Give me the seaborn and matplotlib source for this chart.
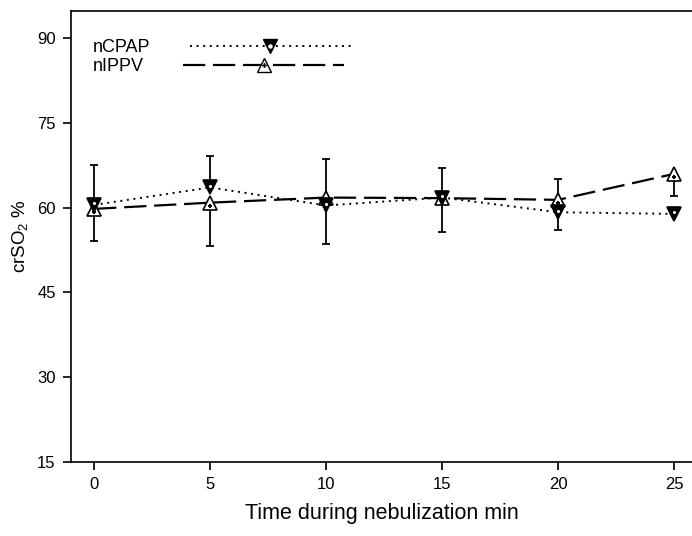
import matplotlib
matplotlib.use("Agg")
import matplotlib.pyplot as plt
from matplotlib.lines import Line2D
from matplotlib.legend_handler import HandlerTuple
import seaborn as sns
import pandas as pd

time = [0, 5, 10, 15, 20, 25]
ncpap = [60.5, 63.6, 60.4, 61.8, 59.2, 58.9]
nippv = [59.8, 60.9, 61.8, 61.7, 61.4, 66.0]
ncpap_err_up = [7.1, 5.6, 8.2, 5.2, 5.9, 0.0]
nippv_err_down = [5.75, 7.7, 8.3, 6.0, 5.35, 3.9]
y_ticks = [15, 30, 45, 60, 75, 90]
x_ticks = [0, 5, 10, 15, 20, 25]

sns.set_theme(style="ticks")
plt.rcParams["font.family"] = ["Liberation Sans", "DejaVu Sans"]
plt.rcParams["text.color"] = "black"
plt.rcParams["mathtext.fontset"] = "custom"
plt.rcParams["mathtext.rm"] = "Liberation Sans"
plt.rcParams["mathtext.it"] = "Liberation Sans"

fig = plt.figure(figsize=(6.92, 5.36), dpi=100)
ax = fig.add_axes([71/692, 1 - 461.7/536, 1 - 71/692, (461.7 - 11)/536])

df = pd.DataFrame({"time": time, "ncpap": ncpap, "nippv": nippv})

# error bars
ax.errorbar(time, ncpap, yerr=[[0]*6, ncpap_err_up], fmt="none", ecolor="black",
            elinewidth=1.3, capsize=3, capthick=1.3, zorder=2)
ax.errorbar(time, nippv, yerr=[nippv_err_down, [0]*6], fmt="none", ecolor="black",
            elinewidth=1.3, capsize=3, capthick=1.3, zorder=2)

sns.lineplot(data=df, x="time", y="ncpap", ax=ax, color="black", lw=1.4,
             marker="v", markersize=9.5, markerfacecolor="black", markeredgecolor="black",
             markeredgewidth=1.2, errorbar=None, zorder=4)
l1 = ax.lines[-1]
l1.set_dashes((1, 2.4))
sns.lineplot(data=df, x="time", y="nippv", ax=ax, color="black", lw=1.6,
             marker="^", markersize=9.5, markerfacecolor="white", markeredgecolor="black",
             markeredgewidth=1.2, errorbar=None, zorder=3)
l2 = ax.lines[-1]
l2.set_dashes((10, 3.5))

# inner dots
sns.scatterplot(x=time, y=[v + 0.3 for v in ncpap], ax=ax, marker="o", s=5, color="white",
                edgecolor="white", linewidth=0, zorder=5)
sns.scatterplot(x=time, y=[v - 0.6 for v in nippv], ax=ax, marker="P", s=12, color="black",
                edgecolor="black", linewidth=0, zorder=5)

ax.set_xlim(-1, 25.77)
ax.set_ylim(15, 94.86)
ax.set_xticks(x_ticks)
ax.set_yticks(y_ticks)
ax.tick_params(axis="both", direction="out", length=6, width=1.2, labelsize=12,
               color="black", labelcolor="black", pad=5)
for s in ["left", "bottom", "top"]:
    ax.spines[s].set_color("black")
    ax.spines[s].set_linewidth(1.2)
ax.spines["right"].set_visible(False)
ax.set_xlabel("Time during nebulization min", fontsize=15.5, color="black", labelpad=8)
ax.set_ylabel("crSO$_2$ %", fontsize=13.5, color="black", labelpad=5)

h1 = (Line2D([], [], color="black", lw=1.4, dashes=(1, 2.4), marker="v", markersize=9.5,
             markerfacecolor="black", markeredgecolor="black"),
      Line2D([], [], ls="none", marker="o", markersize=2.2, markerfacecolor="white",
             markeredgecolor="white"))
h2 = (Line2D([], [], color="black", lw=1.6, dashes=(10, 3.5), marker="^", markersize=9.5,
             markerfacecolor="white", markeredgecolor="black"),
      Line2D([], [], ls="none", marker="P", markersize=3.5, markerfacecolor="black",
             markeredgecolor="black", markeredgewidth=0))
leg = ax.legend([h1, h2], ["nCPAP", "nIPPV"], handler_map={tuple: HandlerTuple(ndivide=1)},
                loc="upper left", bbox_to_anchor=(0.035, 0.937), frameon=False,
                markerfirst=False, handlelength=8.9, handletextpad=2.2, borderpad=0,
                borderaxespad=0, labelspacing=0.1, numpoints=1, fontsize=13)
for col in leg._legend_handle_box.get_children():
    col.align = "left"

fig.savefig("out.png", dpi=100)
